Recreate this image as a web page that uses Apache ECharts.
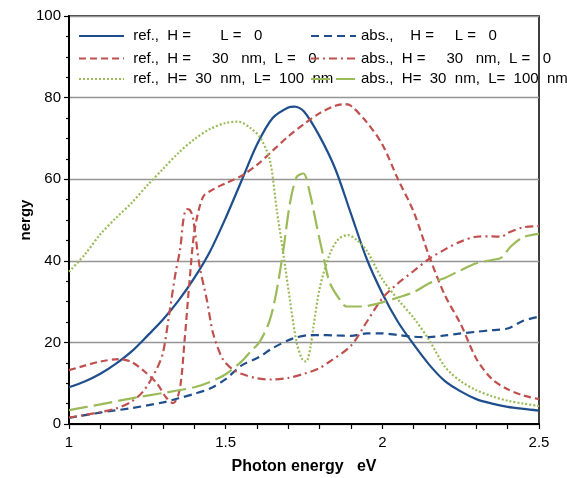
<!DOCTYPE html>
<html>
<head>
<meta charset="utf-8">
<script src="https://cdn.jsdelivr.net/npm/echarts@6/dist/echarts.min.js"></script>
<style>
html,body{margin:0;padding:0;background:#fff;}
#c{width:567px;height:478px;}
</style>
</head>
<body>
<div id="c"></div>
<script>
// Axis ticks
const xTicks = [1, 1.5, 2, 2.5];
const yTicks = [0, 20, 40, 60, 80, 100];

// Series names (legend text)
const names = [
  'ref.,  H =       L =   0',
  'ref.,  H =     30   nm,  L =   0',
  'ref.,  H=  30  nm,  L=  100  nm',
  'abs.,    H =     L =   0',
  'abs.,  H =     30   nm,  L =   0',
  'abs.,  H=  30  nm,  L=  100  nm'
];

// ref., H = L = 0
const refFlatX = [1.0,1.05,1.1,1.15,1.2,1.25,1.3,1.35,1.4,1.45,1.5,1.55,1.6,1.65,1.7,1.72,1.75,1.8,1.85,1.9,1.95,2.0,2.05,2.1,2.15,2.2,2.25,2.3,2.35,2.4,2.45,2.5];
const refFlatY = [9,10.4,12.3,14.8,17.8,21.6,25.6,30.3,35.8,42.3,50.5,59.5,68.5,75,77.6,77.8,76.6,70.5,62.5,51.5,40.5,32,25,19.5,14.5,10.5,8,6.1,5,4.2,3.7,3.3];

// ref., H = 30 nm, L = 0
const refHX = [1.0,1.05,1.1,1.16,1.2,1.236,1.28,1.31,1.332,1.353,1.369,1.385,1.401,1.428,1.46,1.5,1.55,1.6,1.65,1.7,1.75,1.8,1.85,1.88,1.9,1.95,2.0,2.05,2.1,2.15,2.2,2.25,2.3,2.35,2.4,2.45,2.5];
const refHY = [13.2,14.3,15.3,15.9,15.2,13.2,10,6.5,5.1,8.3,20.6,35.3,47.5,55.7,57.5,59,60.8,63.5,67,70.5,73.5,76.2,78,78.4,78,74,68.5,60,52,41,31.5,24.5,16,11,8.5,7,6.1];

// ref., H = 30 nm, L = 100 nm
const refHLX = [1.0,1.05,1.1,1.15,1.2,1.25,1.3,1.35,1.4,1.45,1.5,1.54,1.58,1.61,1.641,1.663,1.684,1.705,1.727,1.745,1.757,1.77,1.78,1.801,1.833,1.86,1.89,1.92,1.95,2.0,2.05,2.1,2.15,2.2,2.25,2.3,2.35,2.4,2.45,2.5];
const refHLY = [37.3,41.5,46.5,50.5,54.2,58.5,62.5,66.5,69.8,72.3,73.8,74.1,72.5,70.2,64.7,52.5,41.8,30.4,19.8,15.8,15.3,18.5,23.8,33.6,41.8,45.3,46.3,45,42.5,35.5,30.5,26,20.5,14,10.5,8.3,6.8,5.7,5,4.4];

// abs., H = L = 0
const absFlatX = [1.0,1.1,1.2,1.3,1.35,1.4,1.45,1.5,1.55,1.609,1.65,1.716,1.769,1.8,1.85,1.9,1.95,2.0,2.05,2.1,2.15,2.2,2.25,2.3,2.35,2.4,2.45,2.5];
const absFlatY = [1.5,2.8,3.9,5.3,6.3,7.4,8.7,11,14.3,16.5,18.6,21,21.8,21.8,21.7,21.6,22.2,22.2,21.8,21.4,21.3,21.7,22.2,22.6,23,23.4,25.3,26.3];

// abs., H = 30 nm, L = 0
const absHX = [1.0,1.05,1.1,1.15,1.2,1.24,1.28,1.3,1.32,1.34,1.355,1.365,1.375,1.385,1.395,1.417,1.44,1.46,1.49,1.52,1.55,1.6,1.65,1.7,1.75,1.8,1.83,1.9,1.95,2.0,2.05,2.1,2.15,2.2,2.25,2.3,2.35,2.38,2.4,2.45,2.5];
const absHY = [1.6,2.2,2.9,3.8,5.5,8.3,13.5,17.5,27,37,43,50,52.7,52.5,50.8,38.6,30.4,22.2,16,13.5,12.3,11.2,10.9,11.3,12.3,13.7,15.2,19.2,25,30.8,34.5,37.5,40.5,42.8,44.7,45.9,46,45.9,46.8,48.2,48.5];

// abs., H = 30 nm, L = 100 nm
const absHLX = [1.0,1.1,1.2,1.3,1.4,1.45,1.5,1.55,1.58,1.609,1.641,1.663,1.684,1.705,1.727,1.748,1.769,1.791,1.812,1.833,1.865,1.886,1.93,1.95,2.0,2.05,2.1,2.15,2.2,2.25,2.3,2.35,2.38,2.41,2.45,2.5];
const absHLY = [3.4,4.8,6.3,7.6,9.0,10.3,12.2,15.3,17.8,20.2,25.5,32.8,42.6,54,60.6,61.4,56.5,48.4,41,34.5,30.4,28.8,28.8,28.9,29.8,31,32.3,34.5,35.8,37.7,39.4,40.2,40.8,43.5,45.8,46.6];

const pairs = (xs, ys) => xs.map((x, i) => [x, ys[i]]);

const BLUE = '#1F4E8C', RED = '#C0504D', GREEN = '#9BBB59';
const FONT = 'Liberation Sans, Arial, sans-serif';

const seriesDefs = [
  {name: names[0], data: pairs(refFlatX, refFlatY), color: BLUE, type: 'solid'},
  {name: names[1], data: pairs(refHX, refHY), color: RED, type: [7, 4]},
  {name: names[2], data: pairs(refHLX, refHLY), color: GREEN, type: [2, 2]},
  {name: names[3], data: pairs(absFlatX, absFlatY), color: BLUE, type: [8, 5]},
  {name: names[4], data: pairs(absHX, absHY), color: RED, type: [8, 4, 2, 4]},
  {name: names[5], data: pairs(absHLX, absHLY), color: GREEN, type: [19, 6]}
];

const legendPos = [
  {left: 78, top: 28}, {left: 78, top: 50.5}, {left: 78, top: 71},
  {left: 310, top: 28}, {left: 310, top: 50.5}, {left: 310, top: 71}
];

const chart = echarts.init(document.getElementById('c'), null, {renderer: 'canvas'});
chart.setOption({
  animation: false,
  backgroundColor: '#fff',
  textStyle: {fontFamily: FONT},
  grid: {left: 69, right: 28, top: 16, bottom: 54, show: true, borderColor: '#000', borderWidth: 1.5,
    backgroundColor: 'transparent', containLabel: false, outerBoundsMode: 'none'},
  legend: names.map((n, i) => ({
    data: [n],
    left: legendPos[i].left,
    top: legendPos[i].top,
    padding: 0,
    itemWidth: 45,
    itemHeight: 16,
    selectedMode: false,
    itemStyle: {opacity: 0},
    formatter: i < 3 ? (s => ' ' + s) : (s => s),
    textStyle: {fontSize: 15, color: '#000', fontFamily: FONT, lineHeight: 16}
  })),
  xAxis: {
    type: 'value', min: xTicks[0], max: xTicks[xTicks.length - 1], interval: 0.5,
    name: 'Photon energy   eV', nameLocation: 'middle', nameGap: 35, nameMoveOverlap: false,
    nameTextStyle: {fontSize: 16, fontWeight: 'bold', color: '#000', fontFamily: FONT},
    axisLine: {show: true, onZero: false, lineStyle: {color: '#000', width: 2}},
    axisTick: {show: true, length: 5, lineStyle: {color: '#000', width: 1.2}},
    minorTick: {show: true, splitNumber: 5, length: 5, lineStyle: {color: '#000', width: 1.2}},
    axisLabel: {fontSize: 15, color: '#000', margin: 11, fontFamily: FONT,
      formatter: v => xTicks.includes(+v.toFixed(2)) ? String(+v.toFixed(2)) : ''},
    splitLine: {show: false}
  },
  yAxis: {
    type: 'value', min: yTicks[0], max: yTicks[yTicks.length - 1], interval: 20,
    name: 'nergy', nameLocation: 'middle', nameGap: 36, nameRotate: 90, nameMoveOverlap: false,
    nameTextStyle: {fontSize: 15, fontWeight: 'bold', color: '#000', fontFamily: FONT},
    axisLine: {show: true, lineStyle: {color: '#000', width: 2}},
    axisTick: {show: true, length: 5, lineStyle: {color: '#000', width: 1.2}},
    minorTick: {show: true, splitNumber: 4, length: 3, lineStyle: {color: '#000', width: 1.2}},
    axisLabel: {fontSize: 15, color: '#000', margin: 8, fontFamily: FONT},
    splitLine: {show: true, lineStyle: {color: '#959595', width: 1.3}}
  },
  series: seriesDefs.map(s => ({
    type: 'line',
    name: s.name,
    data: s.data,
    symbol: 'none',
    showSymbol: false,
    smooth: 0.3,
    color: s.color,
    lineStyle: {color: s.color, width: 2.2, type: s.type},
    z: 3
  }))
});
</script>
</body>
</html>
